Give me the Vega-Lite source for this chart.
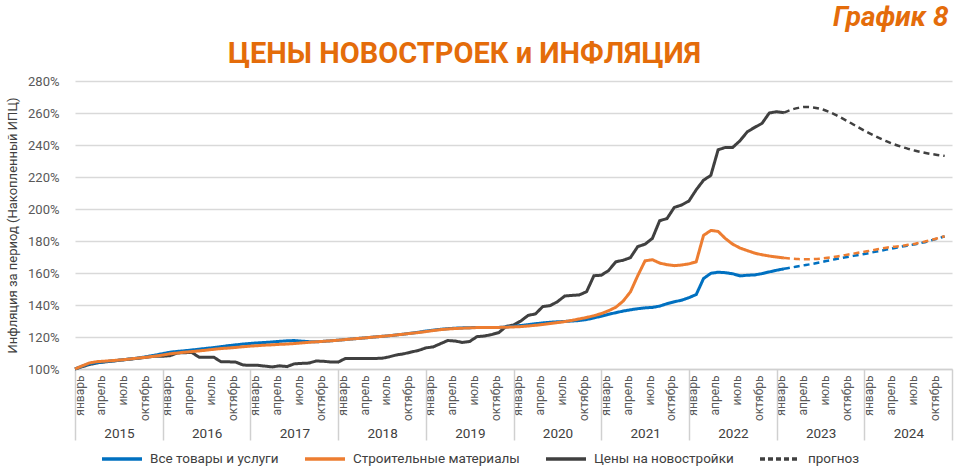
{
"$schema": "https://vega.github.io/schema/vega-lite/v6.json",
"width": 877, "height": 288,
"autosize": {"type": "none"},
"padding": {"left": 75, "top": 81, "right": 22, "bottom": 106},
"background": "white",
"config": {"view": {"stroke": null}, "font": "Roboto"},
"datasets": {
"fact": [
{"m":0,"s":"Цены на новостройки","v":100},{"m":1,"s":"Цены на новостройки","v":101.5},{"m":2,"s":"Цены на новостройки","v":102.8},{"m":3,"s":"Цены на новостройки","v":103.8},{"m":4,"s":"Цены на новостройки","v":104.4},{"m":5,"s":"Цены на новостройки","v":104.9},{"m":6,"s":"Цены на новостройки","v":105.4},{"m":7,"s":"Цены на новостройки","v":105.9},{"m":8,"s":"Цены на новостройки","v":106.4},{"m":9,"s":"Цены на новостройки","v":106.9},{"m":10,"s":"Цены на новостройки","v":107.5},{"m":11,"s":"Цены на новостройки","v":108},
{"m":12,"s":"Цены на новостройки","v":108},{"m":13,"s":"Цены на новостройки","v":108.3},{"m":14,"s":"Цены на новостройки","v":110},{"m":15,"s":"Цены на новостройки","v":110.2},{"m":16,"s":"Цены на новостройки","v":110.3},{"m":17,"s":"Цены на новостройки","v":107.3},{"m":18,"s":"Цены на новостройки","v":107.3},{"m":19,"s":"Цены на новостройки","v":107.3},{"m":20,"s":"Цены на новостройки","v":104.5},{"m":21,"s":"Цены на новостройки","v":104.5},{"m":22,"s":"Цены на новостройки","v":104.3},{"m":23,"s":"Цены на новостройки","v":102.5},
{"m":24,"s":"Цены на новостройки","v":102.3},{"m":25,"s":"Цены на новостройки","v":102.3},{"m":26,"s":"Цены на новостройки","v":101.8},{"m":27,"s":"Цены на новостройки","v":101.3},{"m":28,"s":"Цены на новостройки","v":102},{"m":29,"s":"Цены на новостройки","v":101.5},{"m":30,"s":"Цены на новостройки","v":103.2},{"m":31,"s":"Цены на новостройки","v":103.5},{"m":32,"s":"Цены на новостройки","v":103.7},{"m":33,"s":"Цены на новостройки","v":105},{"m":34,"s":"Цены на новостройки","v":104.8},{"m":35,"s":"Цены на новостройки","v":104.4},
{"m":36,"s":"Цены на новостройки","v":104.3},{"m":37,"s":"Цены на новостройки","v":106.6},{"m":38,"s":"Цены на новостройки","v":106.6},{"m":39,"s":"Цены на новостройки","v":106.6},{"m":40,"s":"Цены на новостройки","v":106.6},{"m":41,"s":"Цены на новостройки","v":106.6},{"m":42,"s":"Цены на новостройки","v":106.7},{"m":43,"s":"Цены на новостройки","v":107.6},{"m":44,"s":"Цены на новостройки","v":108.8},{"m":45,"s":"Цены на новостройки","v":109.5},{"m":46,"s":"Цены на новостройки","v":110.6},{"m":47,"s":"Цены на новостройки","v":111.6},
{"m":48,"s":"Цены на новостройки","v":113.2},{"m":49,"s":"Цены на новостройки","v":113.8},{"m":50,"s":"Цены на новостройки","v":115.8},{"m":51,"s":"Цены на новостройки","v":117.8},{"m":52,"s":"Цены на новостройки","v":117.5},{"m":53,"s":"Цены на новостройки","v":116.6},{"m":54,"s":"Цены на новостройки","v":117.2},{"m":55,"s":"Цены на новостройки","v":120.2},{"m":56,"s":"Цены на новостройки","v":120.6},{"m":57,"s":"Цены на новостройки","v":121.5},{"m":58,"s":"Цены на новостройки","v":122.8},{"m":59,"s":"Цены на новостройки","v":126.6},
{"m":60,"s":"Цены на новостройки","v":127.5},{"m":61,"s":"Цены на новостройки","v":130},{"m":62,"s":"Цены на новостройки","v":133.5},{"m":63,"s":"Цены на новостройки","v":134.4},{"m":64,"s":"Цены на новостройки","v":139},{"m":65,"s":"Цены на новостройки","v":139.6},{"m":66,"s":"Цены на новостройки","v":142},{"m":67,"s":"Цены на новостройки","v":145.6},{"m":68,"s":"Цены на новостройки","v":146},{"m":69,"s":"Цены на новостройки","v":146.3},{"m":70,"s":"Цены на новостройки","v":148.3},{"m":71,"s":"Цены на новостройки","v":158.3},
{"m":72,"s":"Цены на новостройки","v":158.6},{"m":73,"s":"Цены на новостройки","v":161.5},{"m":74,"s":"Цены на новостройки","v":167},{"m":75,"s":"Цены на новостройки","v":168},{"m":76,"s":"Цены на новостройки","v":169.6},{"m":77,"s":"Цены на новостройки","v":176.5},{"m":78,"s":"Цены на новостройки","v":178},{"m":79,"s":"Цены на новостройки","v":181.6},{"m":80,"s":"Цены на новостройки","v":192.7},{"m":81,"s":"Цены на новостройки","v":194},{"m":82,"s":"Цены на новостройки","v":201},{"m":83,"s":"Цены на новостройки","v":202.5},
{"m":84,"s":"Цены на новостройки","v":205},{"m":85,"s":"Цены на новостройки","v":212},{"m":86,"s":"Цены на новостройки","v":218},{"m":87,"s":"Цены на новостройки","v":221},{"m":88,"s":"Цены на новостройки","v":237},{"m":89,"s":"Цены на новостройки","v":238.5},{"m":90,"s":"Цены на новостройки","v":238.5},{"m":91,"s":"Цены на новостройки","v":242.7},{"m":92,"s":"Цены на новостройки","v":248.3},{"m":93,"s":"Цены на новостройки","v":251},{"m":94,"s":"Цены на новостройки","v":253.5},{"m":95,"s":"Цены на новостройки","v":260},
{"m":96,"s":"Цены на новостройки","v":260.8},{"m":97,"s":"Цены на новостройки","v":260.2},
{"m":0,"s":"Все товары и услуги","v":100},{"m":1,"s":"Все товары и услуги","v":101.8},{"m":2,"s":"Все товары и услуги","v":103.3},{"m":3,"s":"Все товары и услуги","v":104},{"m":4,"s":"Все товары и услуги","v":104.5},{"m":5,"s":"Все товары и услуги","v":105},{"m":6,"s":"Все товары и услуги","v":105.5},{"m":7,"s":"Все товары и услуги","v":106},{"m":8,"s":"Все товары и услуги","v":106.5},{"m":9,"s":"Все товары и услуги","v":107.1},{"m":10,"s":"Все товары и услуги","v":107.9},{"m":11,"s":"Все товары и услуги","v":108.7},
{"m":12,"s":"Все товары и услуги","v":109.6},{"m":13,"s":"Все товары и услуги","v":110.5},{"m":14,"s":"Все товары и услуги","v":111},{"m":15,"s":"Все товары и услуги","v":111.4},{"m":16,"s":"Все товары и услуги","v":111.9},{"m":17,"s":"Все товары и услуги","v":112.4},{"m":18,"s":"Все товары и услуги","v":112.9},{"m":19,"s":"Все товары и услуги","v":113.4},{"m":20,"s":"Все товары и услуги","v":114},{"m":21,"s":"Все товары и услуги","v":114.6},{"m":22,"s":"Все товары и услуги","v":115.1},{"m":23,"s":"Все товары и услуги","v":115.6},
{"m":24,"s":"Все товары и услуги","v":116},{"m":25,"s":"Все товары и услуги","v":116.3},{"m":26,"s":"Все товары и услуги","v":116.6},{"m":27,"s":"Все товары и услуги","v":116.9},{"m":28,"s":"Все товары и услуги","v":117.3},{"m":29,"s":"Все товары и услуги","v":117.6},{"m":30,"s":"Все товары и услуги","v":117.8},{"m":31,"s":"Все товары и услуги","v":117.4},{"m":32,"s":"Все товары и услуги","v":117.1},{"m":33,"s":"Все товары и услуги","v":117},{"m":34,"s":"Все товары и услуги","v":117.3},{"m":35,"s":"Все товары и услуги","v":117.6},
{"m":36,"s":"Все товары и услуги","v":118},{"m":37,"s":"Все товары и услуги","v":118.4},{"m":38,"s":"Все товары и услуги","v":118.8},{"m":39,"s":"Все товары и услуги","v":119.2},{"m":40,"s":"Все товары и услуги","v":119.6},{"m":41,"s":"Все товары и услуги","v":120},{"m":42,"s":"Все товары и услуги","v":120.4},{"m":43,"s":"Все товары и услуги","v":120.8},{"m":44,"s":"Все товары и услуги","v":121.3},{"m":45,"s":"Все товары и услуги","v":121.8},{"m":46,"s":"Все товары и услуги","v":122.4},{"m":47,"s":"Все товары и услуги","v":123},
{"m":48,"s":"Все товары и услуги","v":123.7},{"m":49,"s":"Все товары и услуги","v":124.3},{"m":50,"s":"Все товары и услуги","v":124.8},{"m":51,"s":"Все товары и услуги","v":125.2},{"m":52,"s":"Все товары и услуги","v":125.5},{"m":53,"s":"Все товары и услуги","v":125.7},{"m":54,"s":"Все товары и услуги","v":125.8},{"m":55,"s":"Все товары и услуги","v":126},{"m":56,"s":"Все товары и услуги","v":126},{"m":57,"s":"Все товары и услуги","v":126},{"m":58,"s":"Все товары и услуги","v":126},{"m":59,"s":"Все товары и услуги","v":126.3},
{"m":60,"s":"Все товары и услуги","v":126.7},{"m":61,"s":"Все товары и услуги","v":127.2},{"m":62,"s":"Все товары и услуги","v":127.7},{"m":63,"s":"Все товары и услуги","v":128.3},{"m":64,"s":"Все товары и услуги","v":128.8},{"m":65,"s":"Все товары и услуги","v":129.2},{"m":66,"s":"Все товары и услуги","v":129.5},{"m":67,"s":"Все товары и услуги","v":129.7},{"m":68,"s":"Все товары и услуги","v":130},{"m":69,"s":"Все товары и услуги","v":130.3},{"m":70,"s":"Все товары и услуги","v":130.9},{"m":71,"s":"Все товары и услуги","v":131.9},
{"m":72,"s":"Все товары и услуги","v":133},{"m":73,"s":"Все товары и услуги","v":134.2},{"m":74,"s":"Все товары и услуги","v":135.2},{"m":75,"s":"Все товары и услуги","v":136.2},{"m":76,"s":"Все товары и услуги","v":137},{"m":77,"s":"Все товары и услуги","v":137.7},{"m":78,"s":"Все товары и услуги","v":138.2},{"m":79,"s":"Все товары и услуги","v":138.5},{"m":80,"s":"Все товары и услуги","v":139.3},{"m":81,"s":"Все товары и услуги","v":140.8},{"m":82,"s":"Все товары и услуги","v":142},{"m":83,"s":"Все товары и услуги","v":143},
{"m":84,"s":"Все товары и услуги","v":144.6},{"m":85,"s":"Все товары и услуги","v":146.5},{"m":86,"s":"Все товары и услуги","v":156.5},{"m":87,"s":"Все товары и услуги","v":159.8},{"m":88,"s":"Все товары и услуги","v":160.5},{"m":89,"s":"Все товары и услуги","v":160.2},{"m":90,"s":"Все товары и услуги","v":159.5},{"m":91,"s":"Все товары и услуги","v":158.2},{"m":92,"s":"Все товары и услуги","v":158.6},{"m":93,"s":"Все товары и услуги","v":158.8},{"m":94,"s":"Все товары и услуги","v":159.6},{"m":95,"s":"Все товары и услуги","v":160.7},
{"m":96,"s":"Все товары и услуги","v":161.7},{"m":97,"s":"Все товары и услуги","v":162.6},
{"m":0,"s":"Строительные материалы","v":100},{"m":1,"s":"Строительные материалы","v":102},{"m":2,"s":"Строительные материалы","v":103.8},{"m":3,"s":"Строительные материалы","v":104.6},{"m":4,"s":"Строительные материалы","v":104.9},{"m":5,"s":"Строительные материалы","v":105.2},{"m":6,"s":"Строительные материалы","v":105.6},{"m":7,"s":"Строительные материалы","v":106},{"m":8,"s":"Строительные материалы","v":106.5},{"m":9,"s":"Строительные материалы","v":107},{"m":10,"s":"Строительные материалы","v":107.5},{"m":11,"s":"Строительные материалы","v":108.1},
{"m":12,"s":"Строительные материалы","v":108.7},{"m":13,"s":"Строительные материалы","v":109.5},{"m":14,"s":"Строительные материалы","v":110},{"m":15,"s":"Строительные материалы","v":110.5},{"m":16,"s":"Строительные материалы","v":110.9},{"m":17,"s":"Строительные материалы","v":111.3},{"m":18,"s":"Строительные материалы","v":111.8},{"m":19,"s":"Строительные материалы","v":112.3},{"m":20,"s":"Строительные материалы","v":112.8},{"m":21,"s":"Строительные материалы","v":113.1},{"m":22,"s":"Строительные материалы","v":113.5},{"m":23,"s":"Строительные материалы","v":113.9},
{"m":24,"s":"Строительные материалы","v":114.3},{"m":25,"s":"Строительные материалы","v":114.6},{"m":26,"s":"Строительные материалы","v":114.9},{"m":27,"s":"Строительные материалы","v":115.1},{"m":28,"s":"Строительные материалы","v":115.4},{"m":29,"s":"Строительные материалы","v":115.6},{"m":30,"s":"Строительные материалы","v":115.9},{"m":31,"s":"Строительные материалы","v":116.3},{"m":32,"s":"Строительные материалы","v":116.7},{"m":33,"s":"Строительные материалы","v":117},{"m":34,"s":"Строительные материалы","v":117.3},{"m":35,"s":"Строительные материалы","v":117.6},
{"m":36,"s":"Строительные материалы","v":118},{"m":37,"s":"Строительные материалы","v":118.4},{"m":38,"s":"Строительные материалы","v":118.8},{"m":39,"s":"Строительные материалы","v":119.2},{"m":40,"s":"Строительные материалы","v":119.6},{"m":41,"s":"Строительные материалы","v":120},{"m":42,"s":"Строительные материалы","v":120.4},{"m":43,"s":"Строительные материалы","v":120.8},{"m":44,"s":"Строительные материалы","v":121.3},{"m":45,"s":"Строительные материалы","v":121.8},{"m":46,"s":"Строительные материалы","v":122.3},{"m":47,"s":"Строительные материалы","v":122.8},
{"m":48,"s":"Строительные материалы","v":123.4},{"m":49,"s":"Строительные материалы","v":124},{"m":50,"s":"Строительные материалы","v":124.6},{"m":51,"s":"Строительные материалы","v":125},{"m":52,"s":"Строительные материалы","v":125.3},{"m":53,"s":"Строительные материалы","v":125.5},{"m":54,"s":"Строительные материалы","v":125.7},{"m":55,"s":"Строительные материалы","v":125.9},{"m":56,"s":"Строительные материалы","v":126},{"m":57,"s":"Строительные материалы","v":126},{"m":58,"s":"Строительные материалы","v":126},{"m":59,"s":"Строительные материалы","v":126.1},
{"m":60,"s":"Строительные материалы","v":126.3},{"m":61,"s":"Строительные материалы","v":126.5},{"m":62,"s":"Строительные материалы","v":126.9},{"m":63,"s":"Строительные материалы","v":127.3},{"m":64,"s":"Строительные материалы","v":127.8},{"m":65,"s":"Строительные материалы","v":128.4},{"m":66,"s":"Строительные материалы","v":129},{"m":67,"s":"Строительные материалы","v":129.6},{"m":68,"s":"Строительные материалы","v":130.4},{"m":69,"s":"Строительные материалы","v":131.3},{"m":70,"s":"Строительные материалы","v":132.2},{"m":71,"s":"Строительные материалы","v":133.3},
{"m":72,"s":"Строительные материалы","v":134.6},{"m":73,"s":"Строительные материалы","v":136.4},{"m":74,"s":"Строительные материалы","v":138.6},{"m":75,"s":"Строительные материалы","v":142.4},{"m":76,"s":"Строительные материалы","v":148.2},{"m":77,"s":"Строительные материалы","v":158.3},{"m":78,"s":"Строительные материалы","v":167.6},{"m":79,"s":"Строительные материалы","v":168.3},{"m":80,"s":"Строительные материалы","v":166.2},{"m":81,"s":"Строительные материалы","v":165.2},{"m":82,"s":"Строительные материалы","v":164.6},{"m":83,"s":"Строительные материалы","v":165},
{"m":84,"s":"Строительные материалы","v":165.7},{"m":85,"s":"Строительные материалы","v":167},{"m":86,"s":"Строительные материалы","v":183.5},{"m":87,"s":"Строительные материалы","v":186.6},{"m":88,"s":"Строительные материалы","v":186},{"m":89,"s":"Строительные материалы","v":181.5},{"m":90,"s":"Строительные материалы","v":178},{"m":91,"s":"Строительные материалы","v":175.6},{"m":92,"s":"Строительные материалы","v":174},{"m":93,"s":"Строительные материалы","v":172.4},{"m":94,"s":"Строительные материалы","v":171.4},{"m":95,"s":"Строительные материалы","v":170.6},
{"m":96,"s":"Строительные материалы","v":170},{"m":97,"s":"Строительные материалы","v":169.4}
],
"forecast": [
{"m":97,"s":"Все товары и услуги","v":162.6},{"m":98,"s":"Все товары и услуги","v":163.4},{"m":99,"s":"Все товары и услуги","v":164.2},{"m":100,"s":"Все товары и услуги","v":165},{"m":101,"s":"Все товары и услуги","v":165.8},{"m":102,"s":"Все товары и услуги","v":166.7},{"m":103,"s":"Все товары и услуги","v":167.7},{"m":104,"s":"Все товары и услуги","v":168.6},{"m":105,"s":"Все товары и услуги","v":169.5},{"m":106,"s":"Все товары и услуги","v":170.3},{"m":107,"s":"Все товары и услуги","v":171.1},{"m":108,"s":"Все товары и услуги","v":171.9},{"m":109,"s":"Все товары и услуги","v":172.8},{"m":110,"s":"Все товары и услуги","v":173.7},{"m":111,"s":"Все товары и услуги","v":174.6},{"m":112,"s":"Все товары и услуги","v":175.5},{"m":113,"s":"Все товары и услуги","v":176.4},{"m":114,"s":"Все товары и услуги","v":177.2},{"m":115,"s":"Все товары и услуги","v":178},{"m":116,"s":"Все товары и услуги","v":179},{"m":117,"s":"Все товары и услуги","v":180.2},{"m":118,"s":"Все товары и услуги","v":181.5},{"m":119,"s":"Все товары и услуги","v":182.9},
{"m":97,"s":"Строительные материалы","v":169.4},{"m":98,"s":"Строительные материалы","v":169},{"m":99,"s":"Строительные материалы","v":168.7},{"m":100,"s":"Строительные материалы","v":168.6},{"m":101,"s":"Строительные материалы","v":168.7},{"m":102,"s":"Строительные материалы","v":169},{"m":103,"s":"Строительные материалы","v":169.5},{"m":104,"s":"Строительные материалы","v":170.1},{"m":105,"s":"Строительные материалы","v":170.9},{"m":106,"s":"Строительные материалы","v":171.7},{"m":107,"s":"Строительные материалы","v":172.5},{"m":108,"s":"Строительные материалы","v":173.3},{"m":109,"s":"Строительные материалы","v":174.1},{"m":110,"s":"Строительные материалы","v":175},{"m":111,"s":"Строительные материалы","v":175.8},{"m":112,"s":"Строительные материалы","v":176.4},{"m":113,"s":"Строительные материалы","v":176.9},{"m":114,"s":"Строительные материалы","v":177.6},{"m":115,"s":"Строительные материалы","v":178.3},{"m":116,"s":"Строительные материалы","v":179.3},{"m":117,"s":"Строительные материалы","v":180.4},{"m":118,"s":"Строительные материалы","v":181.7},{"m":119,"s":"Строительные материалы","v":183},
{"m":97,"s":"Цены на новостройки","v":260.2},{"m":98,"s":"Цены на новостройки","v":262},{"m":99,"s":"Цены на новостройки","v":263.2},{"m":100,"s":"Цены на новостройки","v":263.8},{"m":101,"s":"Цены на новостройки","v":263.5},{"m":102,"s":"Цены на новостройки","v":262.6},{"m":103,"s":"Цены на новостройки","v":261},{"m":104,"s":"Цены на новостройки","v":259},{"m":105,"s":"Цены на новостройки","v":256.6},{"m":106,"s":"Цены на новостройки","v":254.1},{"m":107,"s":"Цены на новостройки","v":251.5},{"m":108,"s":"Цены на новостройки","v":249},{"m":109,"s":"Цены на новостройки","v":246.6},{"m":110,"s":"Цены на новостройки","v":244.4},{"m":111,"s":"Цены на новостройки","v":242.4},{"m":112,"s":"Цены на новостройки","v":240.6},{"m":113,"s":"Цены на новостройки","v":239},{"m":114,"s":"Цены на новостройки","v":237.6},{"m":115,"s":"Цены на новостройки","v":236.4},{"m":116,"s":"Цены на новостройки","v":235.4},{"m":117,"s":"Цены на новостройки","v":234.5},{"m":118,"s":"Цены на новостройки","v":233.8},{"m":119,"s":"Цены на новостройки","v":233.2}
]
},
"layer": [
{
"data": {"name": "fact"},
"mark": {"type": "line", "strokeWidth": 3},
"encoding": {
"x": {"field": "m", "type": "quantitative", "scale": {"domain": [0, 120], "nice": false, "zero": false},
"axis": {"orient": "bottom", "values": [0,3,6,9,12,15,18,21,24,27,30,33,36,39,42,45,48,51,54,57,60,63,66,69,72,75,78,81,84,87,90,93,96,99,102,105,108,111,114,117],
"labelExpr": "['январь','апрель','июль','октябрь'][(datum.value % 12) / 3]",
"labelAngle": -90, "labelAlign": "right", "labelBaseline": "middle", "labelPadding": 6, "labelOffset": 4,
"labelFontSize": 12, "labelColor": "#595959", "labelFlush": false, "labelOverlap": false, "labelBound": false,
"ticks": false, "grid": false, "domain": true, "domainColor": "#d0d0d0", "domainWidth": 1.5,
"title": "ЦЕНЫ НОВОСТРОЕК и ИНФЛЯЦИЯ", "titleX": 389, "titleY": -307, "titleAlign": "center", "titleBaseline": "alphabetic", "titleAngle": 0,
"titleFontSize": 29, "titleFontWeight": "bold", "titleColor": "#E46C0A", "titleFont": "Roboto"}},
"y": {"field": "v", "type": "quantitative", "scale": {"domain": [100, 280], "nice": false, "zero": false},
"axis": {"values": [100,120,140,160,180,200,220,240,260,280], "labelExpr": "datum.value + '%'", "labelOverlap": false, "labelFlush": false,
"title": "Инфляция за период (Накопленный ИПЦ)", "titleFontSize": 13, "titleFontWeight": "normal", "titleColor": "#404040", "titlePadding": 8,
"labelFontSize": 13, "labelColor": "#595959", "labelPadding": 16, "domain": false, "ticks": false,
"grid": true, "gridColor": "#d9d9d9", "gridWidth": 1.5}},
"color": {"field": "s", "type": "nominal",
"scale": {"domain": ["Все товары и услуги", "Строительные материалы", "Цены на новостройки", "прогноз"], "range": ["#0070C0", "#ED7D31", "#404040", "#404040"]},
"legend": {"orient": "none", "legendX": 25, "legendY": 356, "direction": "horizontal", "title": null, "symbolType": "stroke", "symbolSize": 1600, "symbolStrokeWidth": 3.5, "labelFontSize": 13.5, "labelColor": "#404040", "labelLimit": 400, "columnPadding": 19, "labelOffset": 6, "padding": 0}},
"strokeDash": {"field": "s", "type": "nominal",
"scale": {"domain": ["Все товары и услуги", "Строительные материалы", "Цены на новостройки", "прогноз"], "range": [[1,0],[1,0],[1,0],[5,3]]},
"legend": {"orient": "none", "legendX": 25, "legendY": 356, "direction": "horizontal", "title": null, "symbolType": "stroke", "symbolSize": 1600, "symbolStrokeWidth": 3.5, "labelFontSize": 13.5, "labelColor": "#404040", "labelLimit": 400, "columnPadding": 19, "labelOffset": 6, "padding": 0}}
}
},
{
"data": {"name": "forecast"},
"mark": {"type": "line", "strokeWidth": 2.5, "strokeDash": [6, 4], "interpolate": "monotone"},
"encoding": {
"x": {"field": "m", "type": "quantitative", "scale": {"domain": [0, 120], "nice": false, "zero": false},
"axis": {"orient": "bottom", "values": [0,12,24,36,48,60,72,84,96,108,120],
"labelExpr": "datum.value < 120 ? '' + (2015 + datum.value / 12) : ''",
"labelOffset": 44, "labelPadding": -7, "labelBaseline": "middle", "labelAlign": "center", "labelAngle": 0,
"labelFontSize": 13.5, "labelColor": "#404040", "labelFlush": false, "labelOverlap": false, "labelBound": false,
"ticks": true, "tickSize": 71, "tickColor": "#d0d0d0", "tickWidth": 1.5, "domain": false, "grid": false,
"title": "График 8", "titleX": 873, "titleY": -344, "titleAlign": "right", "titleBaseline": "alphabetic", "titleAngle": 0,
"titleFontSize": 28, "titleFontStyle": "italic", "titleFontWeight": "bold", "titleColor": "#E46C0A", "titleFont": "Roboto"}},
"y": {"field": "v", "type": "quantitative", "scale": {"domain": [100, 280], "nice": false, "zero": false},
"axis": {"values": [100,120,140,160,180,200,220,240,260,280], "labelExpr": "datum.value + '%'", "labelOverlap": false, "labelFlush": false,
"title": "Инфляция за период (Накопленный ИПЦ)", "titleFontSize": 13, "titleFontWeight": "normal", "titleColor": "#404040", "titlePadding": 8,
"labelFontSize": 13, "labelColor": "#595959", "labelPadding": 16, "domain": false, "ticks": false,
"grid": true, "gridColor": "#d9d9d9", "gridWidth": 1.5}},
"color": {"field": "s", "type": "nominal",
"scale": {"domain": ["Все товары и услуги", "Строительные материалы", "Цены на новостройки", "прогноз"], "range": ["#0070C0", "#ED7D31", "#404040", "#404040"]}}
}
}
],
"resolve": {"axis": {"x": "independent"}}
}
